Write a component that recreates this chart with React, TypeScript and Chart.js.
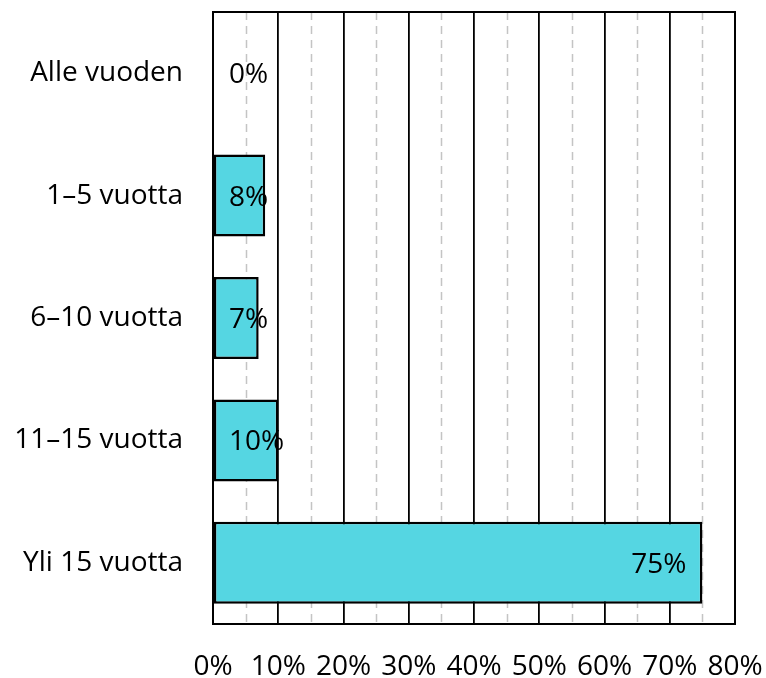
import React, { useEffect, useRef } from "react";
import { Chart, registerables } from "chart.js";

Chart.register(...registerables);

const categories = ["Alle vuoden", "1–5 vuotta", "6–10 vuotta", "11–15 vuotta", "Yli 15 vuotta"];
const values = [0, 8, 7, 10, 75];
const xTickValues = [0, 10, 20, 30, 40, 50, 60, 70, 80];
const minorGridValues = [5, 15, 25, 35, 45, 55, 65, 75];

const FONT = "'Open Sans', sans-serif";
const FONT_SIZE = 28;

const framePlugin = {
  id: "frame",
  beforeDatasetsDraw(chart: any) {
    const { ctx, chartArea, scales } = chart;
    ctx.save();
    ctx.strokeStyle = "#c4c4c4";
    ctx.lineWidth = 1.5;
    ctx.setLineDash([8, 6]);
    for (const v of minorGridValues) {
      const x = Math.round(scales.x.getPixelForValue(v)) + 0.5;
      ctx.beginPath();
      ctx.moveTo(x, chartArea.top);
      ctx.lineTo(x, chartArea.bottom);
      ctx.stroke();
    }
    ctx.restore();
  },
  afterDatasetsDraw(chart: any) {
    const { ctx, chartArea } = chart;
    ctx.save();
    ctx.strokeStyle = "#000";
    ctx.lineWidth = 2;
    ctx.strokeRect(chartArea.left, chartArea.top, chartArea.right - chartArea.left, chartArea.bottom - chartArea.top);
    const meta = chart.getDatasetMeta(0);
    ctx.font = `${FONT_SIZE}px ${FONT}`;
    ctx.fillStyle = "#000";
    ctx.textBaseline = "middle";
    ctx.textAlign = "left";
    meta.data.forEach((bar: any, i: number) => {
      const text = `${values[i]}%`;
      const w = ctx.measureText(text).width;
      const x = Math.max(chartArea.left + 16, bar.x - 16 - w);
      ctx.fillText(text, x, bar.y + 2);
    });
    ctx.restore();
  },
};

function zeroPad(scale: any) {
  scale.paddingTop = 0;
  scale.paddingBottom = 0;
  scale.paddingLeft = 0;
  scale.paddingRight = 0;
}

export default function App() {
  const ref = useRef<HTMLCanvasElement>(null);
  useEffect(() => {
    document.body.style.margin = "0";
    const chart = new Chart(ref.current as HTMLCanvasElement, {
      type: "bar",
      data: {
        labels: categories,
        datasets: [
          {
            data: values,
            backgroundColor: "#55d6e2",
            borderColor: "#000",
            borderWidth: 2.5,
            borderSkipped: false,
            categoryPercentage: 0.67,
            barPercentage: 1,
          },
        ],
      },
      options: {
        indexAxis: "y",
        animation: false,
        responsive: false,
        maintainAspectRatio: false,
        layout: { padding: { top: 12, right: 31, left: 0, bottom: 0 } },
        plugins: { legend: { display: false }, tooltip: { enabled: false } },
        scales: {
          x: {
            min: 0,
            max: 80,
            afterBuildTicks(scale: any) {
              scale.ticks = xTickValues.map((v) => ({ value: v }));
            },
            afterFit(scale: any) {
              scale.height = 54;
              zeroPad(scale);
            },
            ticks: {
              callback: (v: any) => `${v}%`,
              font: { family: FONT, size: FONT_SIZE },
              color: "#000",
              padding: 26,
              maxRotation: 0,
              autoSkip: false,
            },
            grid: { color: "#000", lineWidth: 1.8, drawTicks: false },
            border: { display: false },
          },
          y: {
            afterFit(scale: any) {
              scale.width = 213;
              zeroPad(scale);
            },
            ticks: {
              font: { family: FONT, size: FONT_SIZE },
              color: "#000",
              padding: 30,
            },
            grid: { display: false, drawTicks: false },
            border: { display: false },
          },
        },
      },
      plugins: [framePlugin],
    } as any);
    return () => chart.destroy();
  }, []);
  return (
    <div style={{ position: "absolute", left: 0, top: 0, width: 766, height: 678 }}>
      <canvas ref={ref} width={766} height={678} />
    </div>
  );
}
